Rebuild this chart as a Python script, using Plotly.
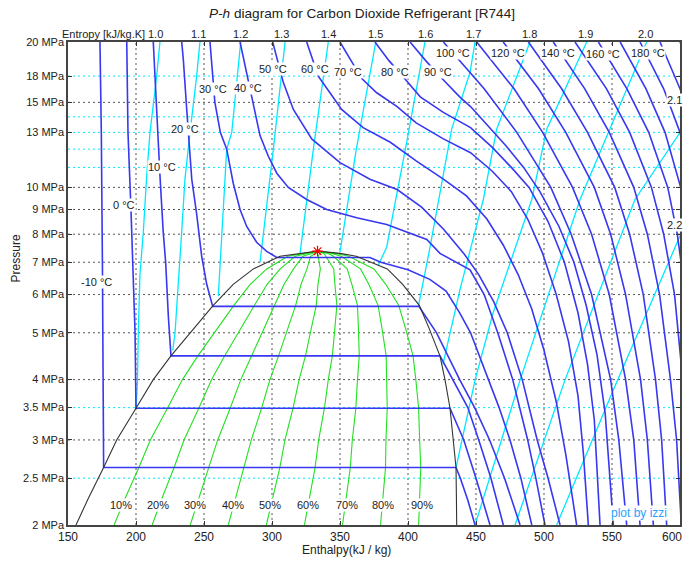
import math
import plotly.graph_objects as go

# ---------------- saturation dome ----------------
sat_p = [2.0, 2.27, 2.63, 3.0, 3.49, 4.0, 4.48, 5.1, 5.7, 6.3, 6.78, 7.2, 7.3, 7.38]
sat_hl = [155.9, 164.9, 176.2, 185.8, 200.0, 212.7, 225.7, 242.1, 256.8, 271.5, 286.3, 305.9, 320.6, 333.5]
sat_hv = [435.8, 435.6, 435.3, 433.3, 430.9, 427.2, 423.5, 415.6, 408.3, 396.1, 384.8, 362.0, 350.0, 333.5]
crit_h = [333.5]
crit_p = [7.38]

quality = [0.1, 0.2, 0.3, 0.4, 0.5, 0.6, 0.7, 0.8, 0.9]
quality_labels = ["10%", "20%", "30%", "40%", "50%", "60%", "70%", "80%", "90%"]

# ---------------- isotherms (h kJ/kg, p MPa) ----------------
t_m10_h = [173.5, 174.5, 175.3, 176.0, 176.2, 435.3, 438.5, 444.0, 449.3]
t_m10_p = [20, 13, 7, 4, 2.63, 2.63, 2.5, 2.25, 2.0]
t_0_h = [193.2, 194.1, 196.3, 197.8, 199.3, 200.0, 430.9, 441.0, 450.0, 460.3]
t_0_p = [20, 13, 9, 7, 5, 3.49, 3.49, 3.0, 2.5, 2.0]
t_10_h = [212.7, 215.2, 217.6, 220.0, 221.8, 223.8, 225.7, 423.5, 433.0, 444.0, 452.0, 461.0, 470.1]
t_10_p = [20, 14, 10.6, 8.1, 7.0, 5.4, 4.48, 4.48, 4.0, 3.5, 3.0, 2.5, 2.0]
t_20_h = [233.6, 234.8, 237.3, 238.5, 241.0, 244.6, 248.3, 252.0, 256.4, 408.0, 421.0, 438.0, 449.0, 460.0, 471.0, 482.4]
t_20_p = [20, 18.4, 14.5, 12.8, 10.4, 8.8, 7.2, 6.3, 5.67, 5.67, 5.0, 4.0, 3.5, 3.0, 2.5, 2.0]
t_30_h = [254.4, 258, 262, 266.7, 271.5, 276.5, 281.4, 288.7, 296.1, 303.5, 372, 380, 400, 416, 428, 438, 446, 459, 467, 475, 483, 491]
t_30_p = [20, 15, 13, 12, 10.2, 9.0, 8.3, 7.7, 7.37, 7.16, 7.16, 7.0, 6.75, 6.45, 6.1, 5.5, 5.0, 4.0, 3.5, 3.0, 2.5, 2.0]
t_40_h = [276.5, 285.1, 287.5, 291.2, 297.3, 303.5, 312, 325.5, 340.2, 362.3, 384.3, 401.5, 413.8, 423.5, 445.6, 456, 466, 477, 488, 494, 500.7]
t_40_p = [20, 15.4, 14.1, 12.8, 11.6, 10.7, 10.0, 9.44, 9.0, 8.65, 8.38, 8.05, 7.8, 7.3, 6.75, 6.0, 5.0, 4.0, 3.0, 2.5, 2.0]
t_50_h = [300.5, 308.3, 315.7, 329.2, 350, 372, 392, 410, 426, 441, 452, 463, 473, 484, 495, 503, 511.8]
t_50_p = [20, 16.5, 14.5, 12.6, 11.25, 10.4, 9.9, 9.1, 8.2, 7.3, 6.6, 5.8, 5.0, 4.0, 3.0, 2.5, 2.0]
t_60_h = [325.5, 334, 342.6, 351.2, 367, 387, 406, 426, 443, 458, 470, 481, 491, 500, 509, 516, 524]
t_60_p = [20, 17, 15.7, 14.5, 13.3, 12.4, 11.35, 10.4, 9.6, 8.6, 7.6, 6.6, 5.6, 4.6, 3.6, 2.8, 2.0]
t_70_h = [350, 357, 366, 377, 392, 406, 426, 446, 462, 476, 488, 499, 509, 518, 525, 529, 532.6]
t_70_p = [20, 18.5, 16.8, 15.7, 14.7, 13.6, 12.6, 11.8, 10.8, 9.8, 8.6, 7.3, 6.0, 4.8, 3.7, 2.8, 2.0]
t_80_h = [375.7, 386, 397.5, 409, 426, 446, 462, 476, 489, 503, 515, 525, 532, 537, 541.2]
t_80_p = [20, 18.3, 16.8, 15.4, 14.3, 13.3, 12.1, 11, 10, 8.5, 7, 5.5, 4.3, 3.3, 2.0]
t_90_h = [401.5, 413, 425, 438, 446, 460, 472, 485, 497, 511, 522, 531, 539, 545, 551]
t_90_p = [20, 18.3, 16.8, 15.4, 14.7, 13.3, 12.2, 11, 9.8, 8.3, 7, 5.7, 4.5, 3.4, 2.0]
hot_p = [20, 16, 13, 10, 8, 6, 4, 3, 2]
t_100_h = [426, 456, 480, 505, 520, 535, 549, 555, 560.8]
t_110_h = [450.5, 478, 499, 521, 535, 548, 560, 566, 570.6]
t_120_h = [470, 496, 516, 537, 549, 560, 571, 576, 580.4]
t_130_h = [488.5, 513, 532, 552, 563, 573, 582, 586.5, 590.2]
t_140_h = [506.8, 530, 548, 566, 576, 585, 593, 597.5, 601]
t_150_h = [522.8, 546, 563, 579, 588, 596, 602, 606, 610]
t_160_h = [540, 561, 577, 591, 598, 604, 611, 615, 619]
t_170_h = [556, 575, 589, 600.5, 608, 615, 621, 625, 629]
t_180_h = [570.6, 588, 600, 612, 619, 626, 632, 636, 639]
t_190_h = [585.3, 600, 612, 623, 630, 636, 642, 645, 649]
t_200_h = [600, 615, 626, 636, 643, 649, 654, 657, 660]

# ---------------- isentropes ----------------
s_10_h = [217.6, 215.2, 210.3, 207.9, 205.4, 202.9, 201.7, 201.0, 200.0]
s_10_p = [20, 17, 13, 10.6, 8.1, 6.6, 5.0, 3.9, 3.49]
s_11_h = [247, 244.6, 239.7, 236, 233.6, 231, 228.7, 227]
s_11_p = [20, 17, 13, 10.4, 8.1, 6.4, 5.0, 4.6]
s_12_h = [277, 270.4, 266.7, 263.5, 260.5]
s_12_p = [20, 13, 12, 8.5, 5.95]
s_13_h = [309.6, 301, 291.2]
s_13_p = [20, 12, 7.0]
s_14_h = [341.4, 330.4, 320.6]
s_14_p = [20, 12, 7.3]
s_15_h = [376.3, 362, 350]
s_15_p = [20, 12, 7.35]
s_16_h = [412.5, 399.5, 384.3, 378.2]
s_16_p = [20, 12.6, 7.52, 6.9]
s_17_h = [449.3, 445.6, 432.1, 416.2, 407.6]
s_17_p = [20, 17.3, 13.2, 7.52, 5.67]
s_18_h = [489.7, 465.2, 455.4, 438.2, 425.7]
s_18_p = [20, 13.2, 9.44, 6.14, 4.3]
s_19_h = [531.4, 502, 491, 462.6, 449.3, 435.3]
s_19_p = [20, 13.2, 9.44, 5.5, 3.99, 2.63]
s_20_h = [575.5, 548.5, 526.5, 482.4, 449.3]
s_20_p = [20, 13.2, 9.44, 3.99, 2.0]
s_21_h = [610, 566.9, 515.4, 478.7]
s_21_p = [14.3, 9.44, 3.99, 2.0]
s_22_h = [603, 550.9, 509.3]
s_22_p = [8.3, 3.8, 2.0]

# ---------------- axes / labels ----------------
h_ticks = [150, 200, 250, 300, 350, 400, 450, 500, 550, 600]
h_tick_text = ["150", "200", "250", "300", "350", "400", "450", "500", "550", ""]
p_ticks = [2, 2.5, 3, 3.5, 4, 5, 6, 7, 8, 9, 10, 13, 15, 17, 20]
p_tick_text = ["2 MPa", "2.5 MPa", "3 MPa", "3.5 MPa", "4 MPa", "5 MPa", "6 MPa", "7 MPa",
               "8 MPa", "9 MPa", "10 MPa", "13 MPa", "15 MPa", "18 MPa", "20 MPa"]
grid_h = [200, 250, 300, 350, 400, 450, 500, 550]
grid_gray_p = [3, 4, 5, 6, 7, 8, 9, 10, 15]
grid_cyan_p = [2.5, 3.5, 11, 12, 13, 14, 17]
entropy_labels = ["1.0", "1.1", "1.2", "1.3", "1.4", "1.5", "1.6", "1.7", "1.8", "1.9", "2.0"]
temp_labels = ["-10 °C", "0 °C", "10 °C", "20 °C", "30 °C", "40 °C", "50 °C", "60 °C", "70 °C",
               "80 °C", "90 °C", "100 °C", "120 °C", "140 °C", "160 °C", "180 °C"]

BLUE = "#3838F0"
CYAN = "#00E8FF"
GREEN = "#22E022"
FONT = "Liberation Sans, Arial, sans-serif"
L = math.log10

fig = go.Figure()

# quality lines
for q in quality:
    qh = [l + q * (v - l) for l, v in zip(sat_hl, sat_hv)]
    fig.add_trace(go.Scatter(x=qh, y=sat_p, mode="lines",
                             line=dict(color=GREEN, width=1.1), hoverinfo="skip"))

# isentropes
isentropes = [(s_10_h, s_10_p), (s_11_h, s_11_p), (s_12_h, s_12_p), (s_13_h, s_13_p),
              (s_14_h, s_14_p), (s_15_h, s_15_p), (s_16_h, s_16_p), (s_17_h, s_17_p),
              (s_18_h, s_18_p), (s_19_h, s_19_p), (s_20_h, s_20_p), (s_21_h, s_21_p),
              (s_22_h, s_22_p)]
for hh, pp in isentropes:
    fig.add_trace(go.Scatter(x=hh, y=pp, mode="lines",
                             line=dict(color=CYAN, width=1.3), hoverinfo="skip"))

# isotherms
isotherms = [(t_m10_h, t_m10_p), (t_0_h, t_0_p), (t_10_h, t_10_p), (t_20_h, t_20_p),
             (t_30_h, t_30_p), (t_40_h, t_40_p), (t_50_h, t_50_p), (t_60_h, t_60_p),
             (t_70_h, t_70_p), (t_80_h, t_80_p), (t_90_h, t_90_p)]
for hh in [t_100_h, t_110_h, t_120_h, t_130_h, t_140_h, t_150_h, t_160_h,
           t_170_h, t_180_h, t_190_h, t_200_h]:
    isotherms.append((hh, hot_p))
for hh, pp in isotherms:
    fig.add_trace(go.Scatter(x=hh, y=pp, mode="lines",
                             line=dict(color=BLUE, width=1.6), hoverinfo="skip"))

# saturation dome
dome_h = sat_hl + sat_hv[::-1]
dome_p = sat_p + sat_p[::-1]
fig.add_trace(go.Scatter(x=dome_h, y=dome_p, mode="lines",
                         line=dict(color="#333333", width=1.1), hoverinfo="skip"))
fig.add_trace(go.Scatter(x=crit_h, y=crit_p, mode="markers",
                         marker=dict(symbol="asterisk-open", size=9, color="red",
                                     line=dict(color="red", width=1.2)), hoverinfo="skip"))

# grid lines
shapes = []
for g in grid_h:
    shapes.append(dict(type="line", xref="x", yref="paper", x0=g, x1=g, y0=0, y1=1,
                       line=dict(color="#555555", width=1, dash="2px,3px"), layer="below"))
for g in grid_gray_p:
    shapes.append(dict(type="line", xref="paper", yref="y", x0=0, x1=1, y0=g, y1=g,
                       line=dict(color="#555555", width=1, dash="2px,3px"), layer="below"))
for g in grid_cyan_p:
    shapes.append(dict(type="line", xref="paper", yref="y", x0=0, x1=1, y0=g, y1=g,
                       line=dict(color=CYAN, width=1, dash="2px,3px"), layer="below"))

lab_font = dict(size=11, color="#222", family=FONT)
ann = []
# isotherm labels
temp_pos = [(170.6, 6.37), (191.2, 9.2), (218.9, 11.0), (236, 13.2), (256.3, 16.0),
            (282.6, 16.1), (301, 17.6), (331.6, 17.6), (356.1, 17.3), (390.4, 17.3),
            (421.7, 17.3), (433.3, 19.0), (473.2, 19.0), (510.5, 19.0), (543.6, 18.9),
            (576.7, 19.0)]
for t, (hx, py) in zip(temp_labels, temp_pos):
    ann.append(dict(x=hx, y=L(py), xref="x", yref="y", text=t, showarrow=False,
                    xanchor="center", bgcolor="white", borderpad=0, font=lab_font))
# quality labels
q_pos = [189, 216.4, 243.4, 271.5, 298.5, 326.7, 354.9, 381.8, 410.1]
for t, hx in zip(quality_labels, q_pos):
    ann.append(dict(x=hx, y=L(2.2), xref="x", yref="y", text=t, showarrow=False,
                    xanchor="center", bgcolor="white", borderpad=0, font=lab_font))
# entropy labels on top
s_top_pos = [214, 246.3, 277, 307.1, 341.2, 376.3, 412.5, 447.8, 489, 530.7, 574.3]
for t, hx in zip(entropy_labels, s_top_pos):
    ann.append(dict(x=hx, y=1.0166, xref="x", yref="paper", text=t, showarrow=False,
                    xanchor="center", yanchor="middle", font=lab_font))
ann.append(dict(x=1.0049, y=L(15.2), xref="paper", yref="y", text="2.1", showarrow=False,
                xanchor="right", bgcolor="white", borderpad=0, font=lab_font))
ann.append(dict(x=1.0049, y=L(8.35), xref="paper", yref="y", text="2.2", showarrow=False,
                xanchor="right", bgcolor="white", borderpad=0, font=lab_font))
ann.append(dict(x=1.0065, y=0, xref="paper", yref="paper", text="600", showarrow=False,
                xanchor="right", yanchor="top", yshift=-3,
                font=dict(size=12, color="#222", family=FONT)))
ann.append(dict(x=0.129, y=1.0166, xref="paper", yref="paper", text="Entropy [kJ/kg.K]",
                showarrow=False, xanchor="right", yanchor="middle", font=lab_font))
ann.append(dict(x=0.48, y=1.058, xref="paper", yref="paper",
                text="<i>P-h</i> diagram for Carbon Dioxide Refrigerant [R744]",
                showarrow=False, xanchor="center", yanchor="middle",
                font=dict(size=13.6, color="#222", family=FONT)))
ann.append(dict(x=(346 - 68) / 612, y=-0.052, xref="paper", yref="paper",
                text="Enthalpy(kJ / kg)", showarrow=False, xanchor="center", yanchor="middle",
                font=dict(size=12, color="#222", family=FONT)))
ann.append(dict(x=(16 - 68) / 612, y=0.552, xref="paper", yref="paper", text="Pressure",
                showarrow=False, textangle=-90, xanchor="center", yanchor="middle",
                font=dict(size=12, color="#222", family=FONT)))
ann.append(dict(x=(639 - 68) / 612, y=0.025, xref="paper", yref="paper", text="plot by izzi",
                showarrow=False, xanchor="center", yanchor="middle", bgcolor="white",
                borderpad=0, font=dict(size=12, color="#2AA0FF", family=FONT)))

fig.update_layout(
    width=684, height=562,
    margin=dict(l=68, r=4, t=42, b=37, autoexpand=False),
    paper_bgcolor="white", plot_bgcolor="white",
    showlegend=False,
    shapes=shapes, annotations=ann,
    font=dict(family=FONT, size=11, color="#222"),
    xaxis=dict(range=[150, 600], tickvals=h_ticks, ticktext=h_tick_text, showgrid=False,
               zeroline=False, automargin=False, ticks="inside", ticklen=4, tickcolor="#333",
               mirror="ticks", showline=True, linecolor="#444", linewidth=1.5,
               tickfont=dict(size=12, family=FONT)),
    yaxis=dict(type="log", range=[0.30103, 1.30103], tickvals=p_ticks, ticktext=p_tick_text,
               showgrid=False, zeroline=False, automargin=False, ticks="inside", ticklen=4,
               tickcolor="#333", mirror="ticks", showline=True, linecolor="#444", linewidth=1.5,
               tickfont=dict(size=11, family=FONT)),
)

fig.write_html("out.html", config={"displayModeBar": False},
               post_script="document.body.style.margin='0';")
